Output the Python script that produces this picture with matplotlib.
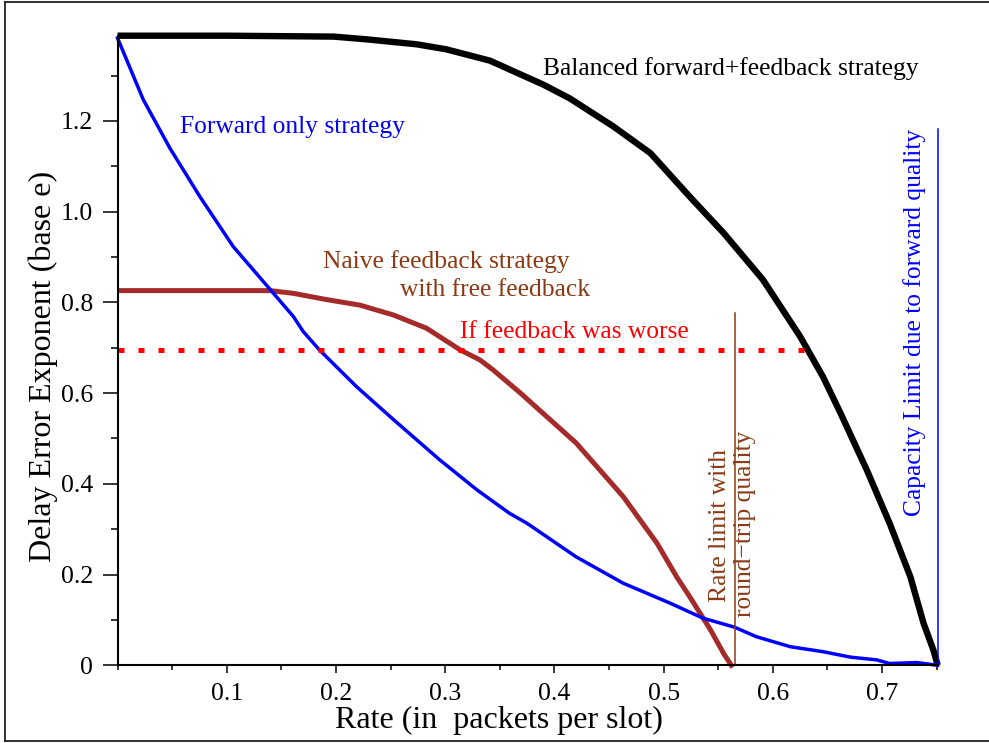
import matplotlib
matplotlib.use('Agg')
import matplotlib.pyplot as plt
from matplotlib.lines import Line2D
from matplotlib.ticker import MultipleLocator

plt.rcParams['font.family'] = ['Liberation Serif', 'DejaVu Serif']

# balanced forward+feedback strategy
black_x = [0, 0.10, 0.198, 0.228, 0.274, 0.301, 0.341, 0.390, 0.414, 0.454, 0.488, 0.524,
           0.555, 0.591, 0.625, 0.646, 0.662, 0.686, 0.707, 0.726, 0.738, 0.747, 0.751]
black_y = [1.388, 1.388, 1.386, 1.380, 1.369, 1.358, 1.333, 1.280, 1.250, 1.188, 1.129, 1.033,
           0.953, 0.850, 0.725, 0.636, 0.556, 0.431, 0.313, 0.195, 0.093, 0.034, 0.0]

# forward only strategy
blue_x = [0, 0.0236, 0.048, 0.0755, 0.106, 0.140, 0.161, 0.170, 0.185, 0.219, 0.253, 0.295,
          0.329, 0.344, 0.359, 0.375, 0.420, 0.463, 0.506, 0.536, 0.565, 0.585, 0.616, 0.646,
          0.671, 0.695, 0.707, 0.732, 0.751]
blue_y = [1.383, 1.247, 1.140, 1.033, 0.923, 0.828, 0.769, 0.736, 0.695, 0.614, 0.541, 0.453,
          0.387, 0.361, 0.335, 0.313, 0.239, 0.181, 0.137, 0.104, 0.084, 0.063, 0.041, 0.030,
          0.018, 0.012, 0.004, 0.006, 0.0]

# naive feedback strategy with free feedback
brown_x = [0.002, 0.14, 0.161, 0.192, 0.222, 0.253, 0.283, 0.314, 0.332, 0.344, 0.369, 0.420,
           0.463, 0.494, 0.512, 0.524, 0.543, 0.555, 0.562]
brown_y = [0.826, 0.826, 0.820, 0.806, 0.794, 0.772, 0.743, 0.695, 0.673, 0.651, 0.600, 0.490,
           0.372, 0.269, 0.195, 0.151, 0.078, 0.026, 0.0]

# if feedback was worse
worse_level = 0.695
worse_x = [0, 0.63]

# rate limits
roundtrip_limit = 0.565
roundtrip_top = 0.777
capacity_limit = 0.751
capacity_top = 1.183

xticks = [0.1, 0.2, 0.3, 0.4, 0.5, 0.6, 0.7]
xtick_labels = ['0.1', '0.2', '0.3', '0.4', '0.5', '0.6', '0.7']
yticks = [0, 0.2, 0.4, 0.6, 0.8, 1.0, 1.2]
ytick_labels = ['0', '0.2', '0.4', '0.6', '0.8', '1.0', '1.2']

W, H = 989, 743
fig = plt.figure(figsize=(W / 100, H / 100), dpi=100)
ax = fig.add_axes([117.5 / W, 77.7 / H, 820.2 / W, 629.6 / H])

brown_text = '#8b3a14'
ax.plot(black_x, black_y, color='black', lw=4.6, clip_on=False, solid_capstyle='butt')
ax.plot(brown_x, brown_y, color='#a52a2a', lw=3.6, clip_on=False)
ax.plot(blue_x, blue_y, color='#0000ff', lw=2.5, clip_on=False)
ax.plot(worse_x, [worse_level, worse_level], color='#ff0000', lw=3.6,
        linestyle=(0, (1.2, 2.8)), dash_capstyle='butt', clip_on=False)
ax.plot([roundtrip_limit, roundtrip_limit], [0, roundtrip_top], color=brown_text, lw=1.1)
ax.plot([capacity_limit, capacity_limit], [0, capacity_top], color='#0000ff', lw=1.1, clip_on=False)

ax.set_xlim(0, 0.751)
ax.set_ylim(0, 1.388)
for s in ['top', 'right']:
    ax.spines[s].set_visible(False)
for s in ['left', 'bottom']:
    ax.spines[s].set_linewidth(1.5)

ax.set_xticks(xticks, xtick_labels)
ax.set_yticks(yticks, ytick_labels)
ax.xaxis.set_minor_locator(MultipleLocator(0.05))
ax.yaxis.set_minor_locator(MultipleLocator(0.1))
ax.tick_params(axis='y', which='major', length=10.5, width=1.1, pad=7, labelsize=18.5)
ax.tick_params(axis='y', which='minor', length=5, width=1.1)
ax.tick_params(axis='x', which='major', length=6, width=1.1, pad=7, labelsize=18.5)
ax.tick_params(axis='x', which='minor', length=3.4, width=1.1)


def px(x, y):
    return x / W, 1 - y / H


fig.text(*px(499, 728), 'Rate (in  packets per slot)', ha='center', va='baseline', size=23)
fig.text(*px(51, 366), 'Delay Error Exponent (base e)', rotation=90, rotation_mode='anchor',
         ha='center', va='baseline', size=23)

fs = 18.4
fig.text(*px(543, 75), 'Balanced forward+feedback strategy', color='black', size=fs, va='baseline')
fig.text(*px(180, 132.7), 'Forward only strategy', color='#0000ff', size=fs, va='baseline')
fig.text(*px(323, 268.3), 'Naive feedback strategy', color=brown_text, size=fs, va='baseline')
fig.text(*px(400, 296), 'with free feedback', color=brown_text, size=fs, va='baseline')
fig.text(*px(460, 338.3), 'If feedback was worse', color='#ff0000', size=fs, va='baseline')
fig.text(*px(726.5, 525), 'Rate limit with', color=brown_text, size=fs, rotation=90,
         rotation_mode='anchor', ha='center', va='baseline')
fig.text(*px(751.5, 524), 'round\u2212trip quality', color=brown_text, size=fs, rotation=90,
         rotation_mode='anchor', ha='center', va='baseline')
fig.text(*px(921, 322), 'Capacity Limit due to forward quality', color='#0000ff', size=fs,
         rotation=90, rotation_mode='anchor', ha='center', va='baseline')

# outer frame
frame_kw = dict(color='#222222', lw=1.3, transform=fig.transFigure)
fig.add_artist(Line2D([5 / W, 5 / W], [1 - 2 / H, 1 - 741 / H], **frame_kw))
fig.add_artist(Line2D([5 / W, 1], [1 - 2 / H, 1 - 2 / H], **frame_kw))
fig.add_artist(Line2D([5 / W, 1], [1 - 741 / H, 1 - 741 / H], **frame_kw))

fig.savefig('out.png', dpi=100)
